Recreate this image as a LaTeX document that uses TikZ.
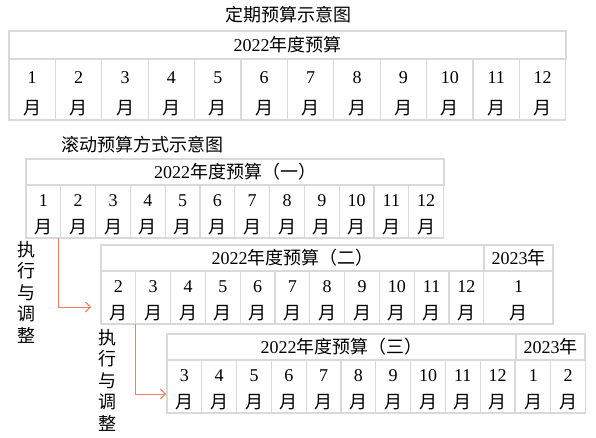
\documentclass[tikz,border=0pt]{standalone}
\usepackage{fontspec}
\setmainfont{Liberation Serif}
\newfontfamily\cjk{Noto Sans CJK SC}
\usetikzlibrary{calc, arrows.meta, positioning}
\definecolor{gridgray}{RGB}{217,217,217}
\definecolor{flowred}{RGB}{238,128,100}

\begin{document}
\begin{tikzpicture}[x=1bp,y=-1bp,inner sep=0pt,outer sep=0pt,
  font=\fontsize{18bp}{21.5bp}\selectfont,
  grid/.style={draw=gridgray,line width=1.2bp},
  head/.style={grid,anchor=north west,minimum height=26bp},
  month/.style={anchor=north west,minimum width=34.8bp,minimum height=53bp,align=center},
  vlabel/.style={align=center,font=\fontsize{18bp}{21.5bp}\cjk},
  flow/.style={draw=flowred,line width=0.9bp,-{Straight Barb[length=5bp,width=10bp]}}]
\useasboundingbox (0,0) rectangle (596,438);

% fixed budget
\node (title1) at (288,15) {\cjk 定期预算示意图};
\node [head,minimum width=557bp,minimum height=28bp] (plan) at (9,31) {2022{\cjk 年度预算}};
\foreach \m [count=\i from 0] in {1,...,12}
  \node [month,minimum width=46.4bp,minimum height=61bp] (p\m) at ($(plan.south west)+(46.4*\i,0)$) {\rule{0pt}{20bp}\m\\[9.5bp]{\cjk 月}};
\draw [grid] (p1.north west) |- (p12.south east) -- (p12.north east);
\foreach \m in {1,...,11}
  \draw [grid] (p\m.north east) -- (p\m.south east);

% rolling budget
\node (title2) at (142,145) {\cjk 滚动预算方式示意图};
\node [head,minimum width=418bp] (rollA) at (26,159) {2022{\cjk 年度预算（一）}};
\foreach \m [count=\i from 0] in {1,...,12}
  \node [month] (a\m) at ($(rollA.south west)+(34.8*\i,0)$) {\rule{0pt}{19bp}\m\\[5.5bp]{\cjk 月}};
\draw [grid] (a1.north west) |- (a12.south east) -- (a12.north east);
\foreach \m in {1,...,11}
  \draw [grid] (a\m.north east) -- (a\m.south east);

\node [head,minimum width=383bp] (rollB) at (101,245) {2022{\cjk 年度预算（二）}};
\node [head,minimum width=69bp] (yearB) at (rollB.north east) {2023{\cjk 年}};
\foreach \m [count=\i from 0] in {2,...,12}
  \node [month] (b\m) at ($(rollB.south west)+(34.8*\i,0)$) {\rule{0pt}{19bp}\m\\[5.5bp]{\cjk 月}};
\node [month,minimum width=69bp] (bnext1) at (yearB.south west) {\rule{0pt}{19bp}1\\[5.5bp]{\cjk 月}};
\draw [grid] (b2.north west) |- (bnext1.south east) -- (bnext1.north east);
\foreach \m in {2,...,12}
  \draw [grid] (b\m.north east) -- (b\m.south east);

\node [head,minimum width=349bp] (rollC) at (167,334) {2022{\cjk 年度预算（三）}};
\node [head,minimum width=69bp] (yearC) at (rollC.north east) {2023{\cjk 年}};
\foreach \m [count=\i from 0] in {3,...,12}
  \node [month] (c\m) at ($(rollC.south west)+(34.8*\i,0)$) {\rule{0pt}{19bp}\m\\[5.5bp]{\cjk 月}};
\node [month] (cnext1) at (yearC.south west) {\rule{0pt}{19bp}1\\[5.5bp]{\cjk 月}};
\node [month] (cnext2) at (cnext1.north east) {\rule{0pt}{19bp}2\\[5.5bp]{\cjk 月}};
\draw [grid] (c3.north west) |- (cnext2.south east) -- (cnext2.north east);
\foreach \m in {3,...,12,next1}
  \draw [grid] (c\m.north east) -- (c\m.south east);

% execute and adjust
\node [vlabel] (exec1) at (26,292) {执\\行\\与\\调\\整};
\node [vlabel] (exec2) at (107,380) {执\\行\\与\\调\\整};
\draw [flow] ($(a1.south east)+(-2,0)$) |- ($(b2.south west)+(-10,-17)$);
\draw [flow] (b2.south east) |- ($(c3.south west)+(-1,-19)$);
\end{tikzpicture}
\end{document}
